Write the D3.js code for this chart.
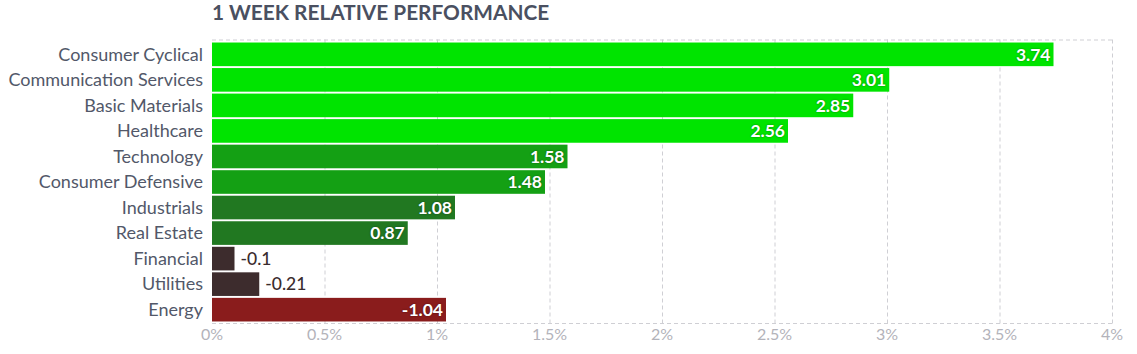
<!DOCTYPE html>
<html>
<head>
<meta charset="utf-8">
<script src="https://cdn.jsdelivr.net/npm/d3@7"></script>
<style>
  body { margin: 0; background: #fff; font-family: Lato, "Open Sans", sans-serif; }
  svg { display: block; }
</style>
</head>
<body>
<script>
var sectors = ["Consumer Cyclical", "Communication Services", "Basic Materials", "Healthcare",
  "Technology", "Consumer Defensive", "Industrials", "Real Estate", "Financial", "Utilities", "Energy"];
var changes = [3.74, 3.01, 2.85, 2.56, 1.58, 1.48, 1.08, 0.87, -0.1, -0.21, -1.04];
var ticks = [0, 0.5, 1, 1.5, 2, 2.5, 3, 3.5, 4];

var width = 1137, height = 354;
var plotLeft = 212, plotRight = 1112, plotTop = 41.5, plotBottom = 322.5;

var data = sectors.map((s, i) => ({ name: s, value: changes[i] }));

// bar color by value bucket
var color = d3.scaleThreshold()
  .domain([-0.5, 0, 1.3, 2])
  .range(["#8a1c1c", "#3d2c2d", "#217821", "#14a014", "#00e400"]);

var x = d3.scaleLinear().domain([0, 4]).range([plotLeft, plotRight]);
var y = d3.scaleBand().domain(sectors).range([plotTop, plotBottom]).paddingInner(0.075).paddingOuter(0.04);

var svg = d3.select("body").append("svg").attr("width", width).attr("height", height);

svg.append("text")
  .attr("x", plotLeft).attr("y", 20)
  .attr("font-size", 20.8).attr("font-weight", 700)
  .attr("fill", "#4a5061")
  .text("1 WEEK RELATIVE PERFORMANCE");

// grid
var grid = svg.append("g").attr("stroke", "#cfcfd4").attr("stroke-dasharray", "4,3").attr("fill", "none");
grid.selectAll("line.v").data(ticks.slice(1)).enter().append("line")
  .attr("x1", d => x(d) + 0.5).attr("x2", d => x(d) + 0.5)
  .attr("y1", plotTop - 2).attr("y2", plotBottom + 1);
grid.append("line").attr("x1", plotLeft).attr("x2", plotRight).attr("y1", plotTop - 1.5).attr("y2", plotTop - 1.5);
grid.append("line").attr("x1", plotLeft).attr("x2", plotRight).attr("y1", plotBottom + 1).attr("y2", plotBottom + 1);

svg.selectAll("rect.bar").data(data).enter().append("rect")
  .attr("x", x(0))
  .attr("y", d => y(d.name))
  .attr("width", d => x(Math.abs(d.value)) - x(0))
  .attr("height", y.bandwidth())
  .attr("fill", d => color(d.value));

// category labels
svg.selectAll("text.cat").data(data).enter().append("text")
  .attr("x", plotLeft - 9)
  .attr("y", d => y(d.name) + y.bandwidth() / 2)
  .attr("dy", "0.35em")
  .attr("text-anchor", "end")
  .attr("font-size", 18)
  .attr("fill", "#525869")
  .text(d => d.name);

// value labels
var inside = d => Math.abs(d.value) > 0.5;
svg.selectAll("text.val").data(data).enter().append("text")
  .attr("x", d => inside(d) ? x(Math.abs(d.value)) - 3 : x(Math.abs(d.value)) + 6)
  .attr("y", d => y(d.name) + y.bandwidth() / 2)
  .attr("dy", "0.36em")
  .attr("text-anchor", d => inside(d) ? "end" : "start")
  .attr("font-size", 17.5)
  .attr("font-weight", d => inside(d) ? 700 : 500)
  .attr("fill", d => inside(d) ? "#fff" : "#3a2c2d")
  .style("text-shadow", d => inside(d) ? "0 0 2px rgba(0,0,0,0.45)" : null)
  .text(d => d.value);

// axis labels
svg.selectAll("text.tick").data(ticks).enter().append("text")
  .attr("x", d => x(d))
  .attr("y", 340)
  .attr("text-anchor", "middle")
  .attr("font-size", 16)
  .attr("fill", "#b3b3ba")
  .text(d => d + "%");
</script>
</body>
</html>
